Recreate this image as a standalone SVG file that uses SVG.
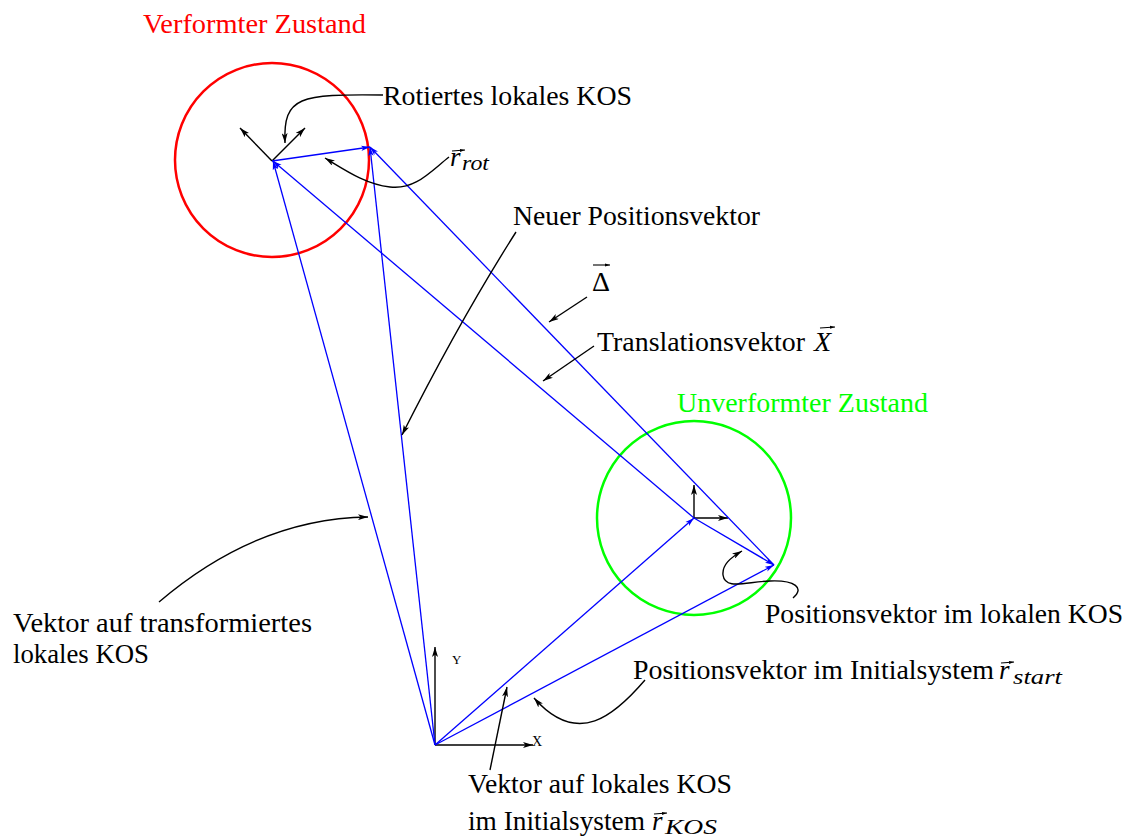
<svg xmlns="http://www.w3.org/2000/svg" width="1133" height="837" viewBox="0 0 1133 837">
<defs>
<marker id="ak" markerUnits="userSpaceOnUse" viewBox="0 0 10 6" refX="10" refY="3" markerWidth="10" markerHeight="6" orient="auto">
<path d="M0,0 L10,3 L0,6 L2.5,3 z" fill="#000"/>
</marker>
<marker id="ab" markerUnits="userSpaceOnUse" viewBox="0 0 10 6" refX="10" refY="3" markerWidth="9" markerHeight="6" orient="auto">
<path d="M0,0 L10,3 L0,6 L2.5,3 z" fill="#0000ff"/>
</marker>
<marker id="av" markerUnits="userSpaceOnUse" viewBox="0 0 10 6" refX="10" refY="3" markerWidth="5" markerHeight="4" orient="auto">
<path d="M0,0 L10,3 L0,6 z" fill="#000"/>
</marker>
</defs>
<style>
text{font-family:"Liberation Serif","DejaVu Serif",serif;font-size:27px;fill:#000}
.it{font-style:italic}
.sub{font-style:italic;font-size:22px}
.blue{stroke:#0000ff;stroke-width:1.3;fill:none;marker-end:url(#ab)}
.lead{stroke:#000;stroke-width:1.4;fill:none;marker-end:url(#ak)}
.axis{stroke:#000;stroke-width:1.4;fill:none;marker-end:url(#ak)}
.vec{stroke:#000;stroke-width:1.1;fill:none;marker-end:url(#av)}
</style>

<g id="verformt">
<circle cx="272" cy="160" r="97" fill="none" stroke="#ff0000" stroke-width="2.5"/>
<text x="143" y="33" style="fill:#ff0000" textLength="223" lengthAdjust="spacingAndGlyphs">Verformter Zustand</text>
</g>

<g id="unverformt">
<circle cx="694" cy="518" r="97" fill="none" stroke="#00ff00" stroke-width="2.5"/>
<text x="677" y="412" style="fill:#00ff00" textLength="251" lengthAdjust="spacingAndGlyphs">Unverformter Zustand</text>
</g>

<g id="kos-rotiert">
<path class="axis" d="M272,161 L240,128"/>
<path class="axis" d="M272,161 L305,128"/>
</g>

<g id="kos-lokal">
<path class="axis" d="M694,518 L694,485"/>
<path class="axis" d="M694,518 L728,518"/>
</g>

<g id="kos-initial">
<path class="axis" d="M435,745 L435,647"/>
<path class="axis" d="M435,745 L533,745"/>
<text x="452" y="664" style="font-size:13px">Y</text>
<text x="532" y="746" style="font-size:14px">X</text>
</g>

<g id="connectors">
<path class="blue" d="M435,745 L273,161"/>
<path class="blue" d="M435,745 L370,147"/>
<path class="blue" d="M272,161 L370,147"/>
<path class="blue" d="M435,745 L694,518"/>
<path class="blue" d="M435,745 L774,565"/>
<path class="blue" d="M694,518 L774,565"/>
<path class="blue" d="M694,518 L273,161"/>
<path class="blue" d="M774,565 L370,147"/>

<path class="lead" d="M383,95 C 300,94 283,96 285,143"/>
<path class="lead" d="M449,157 C 430,172 415,190 390,187 C 365,184 345,170 325,158"/>
<path class="lead" d="M516,232 Q 460,320 402,435"/>
<path class="lead" d="M587,297 L549,322"/>
<path class="lead" d="M594,346 L543,381"/>
<path class="lead" d="M793,598 C 805,588 795,580 770,581 C 745,582 725,590 723,575 C 722,565 730,558 742,551"/>
<path class="lead" d="M645,680 C 615,715 578,748 534,698"/>
<path class="lead" d="M490,770 L507,687"/>
<path class="lead" d="M159,602 C 220,550 290,518 368,517"/>
</g>

<g id="label-rotiert">
<text x="383" y="105" textLength="249" lengthAdjust="spacingAndGlyphs">Rotiertes lokales KOS</text>
</g>

<g id="label-rrot">
<text x="450" y="166"><tspan class="it">r</tspan><tspan class="sub" x="462" y="170" textLength="27" lengthAdjust="spacingAndGlyphs">rot</tspan></text>
<path class="vec" d="M452,151 L465,150"/>
</g>

<g id="label-neuer">
<text x="513" y="225" textLength="247" lengthAdjust="spacingAndGlyphs">Neuer Positionsvektor</text>
</g>

<g id="label-delta">
<text x="592" y="291" style="font-size:28px">Δ</text>
<path class="vec" d="M593,265 L610,265"/>
</g>

<g id="label-translation">
<text x="597" y="351"><tspan textLength="208" lengthAdjust="spacingAndGlyphs">Translationsvektor</tspan><tspan class="it" x="814" style="font-size:28px">X</tspan></text>
<path class="vec" d="M820,328 L835,327"/>
</g>

<g id="label-poslokal">
<text x="765" y="623" textLength="358" lengthAdjust="spacingAndGlyphs">Positionsvektor im lokalen KOS</text>
</g>

<g id="label-posinitial">
<text x="633" y="679"><tspan textLength="361" lengthAdjust="spacingAndGlyphs">Positionsvektor im Initialsystem</tspan><tspan class="it" x="999">r</tspan><tspan class="sub" x="1013" y="684" textLength="49" lengthAdjust="spacingAndGlyphs">start</tspan></text>
<path class="vec" d="M1001,663 L1014,662"/>
</g>

<g id="label-rkos">
<text x="468" y="793" textLength="264" lengthAdjust="spacingAndGlyphs">Vektor auf lokales KOS</text>
<text x="468" y="830"><tspan textLength="177" lengthAdjust="spacingAndGlyphs">im Initialsystem</tspan><tspan class="it" x="652">r</tspan><tspan class="sub" x="665" y="834" textLength="52" lengthAdjust="spacingAndGlyphs">KOS</tspan></text>
<path class="vec" d="M654,814 L667,813"/>
</g>

<g id="label-transformiert">
<text x="13" y="632" textLength="299" lengthAdjust="spacingAndGlyphs">Vektor auf transformiertes</text>
<text x="13" y="663" textLength="136" lengthAdjust="spacingAndGlyphs">lokales KOS</text>
</g>
</svg>
